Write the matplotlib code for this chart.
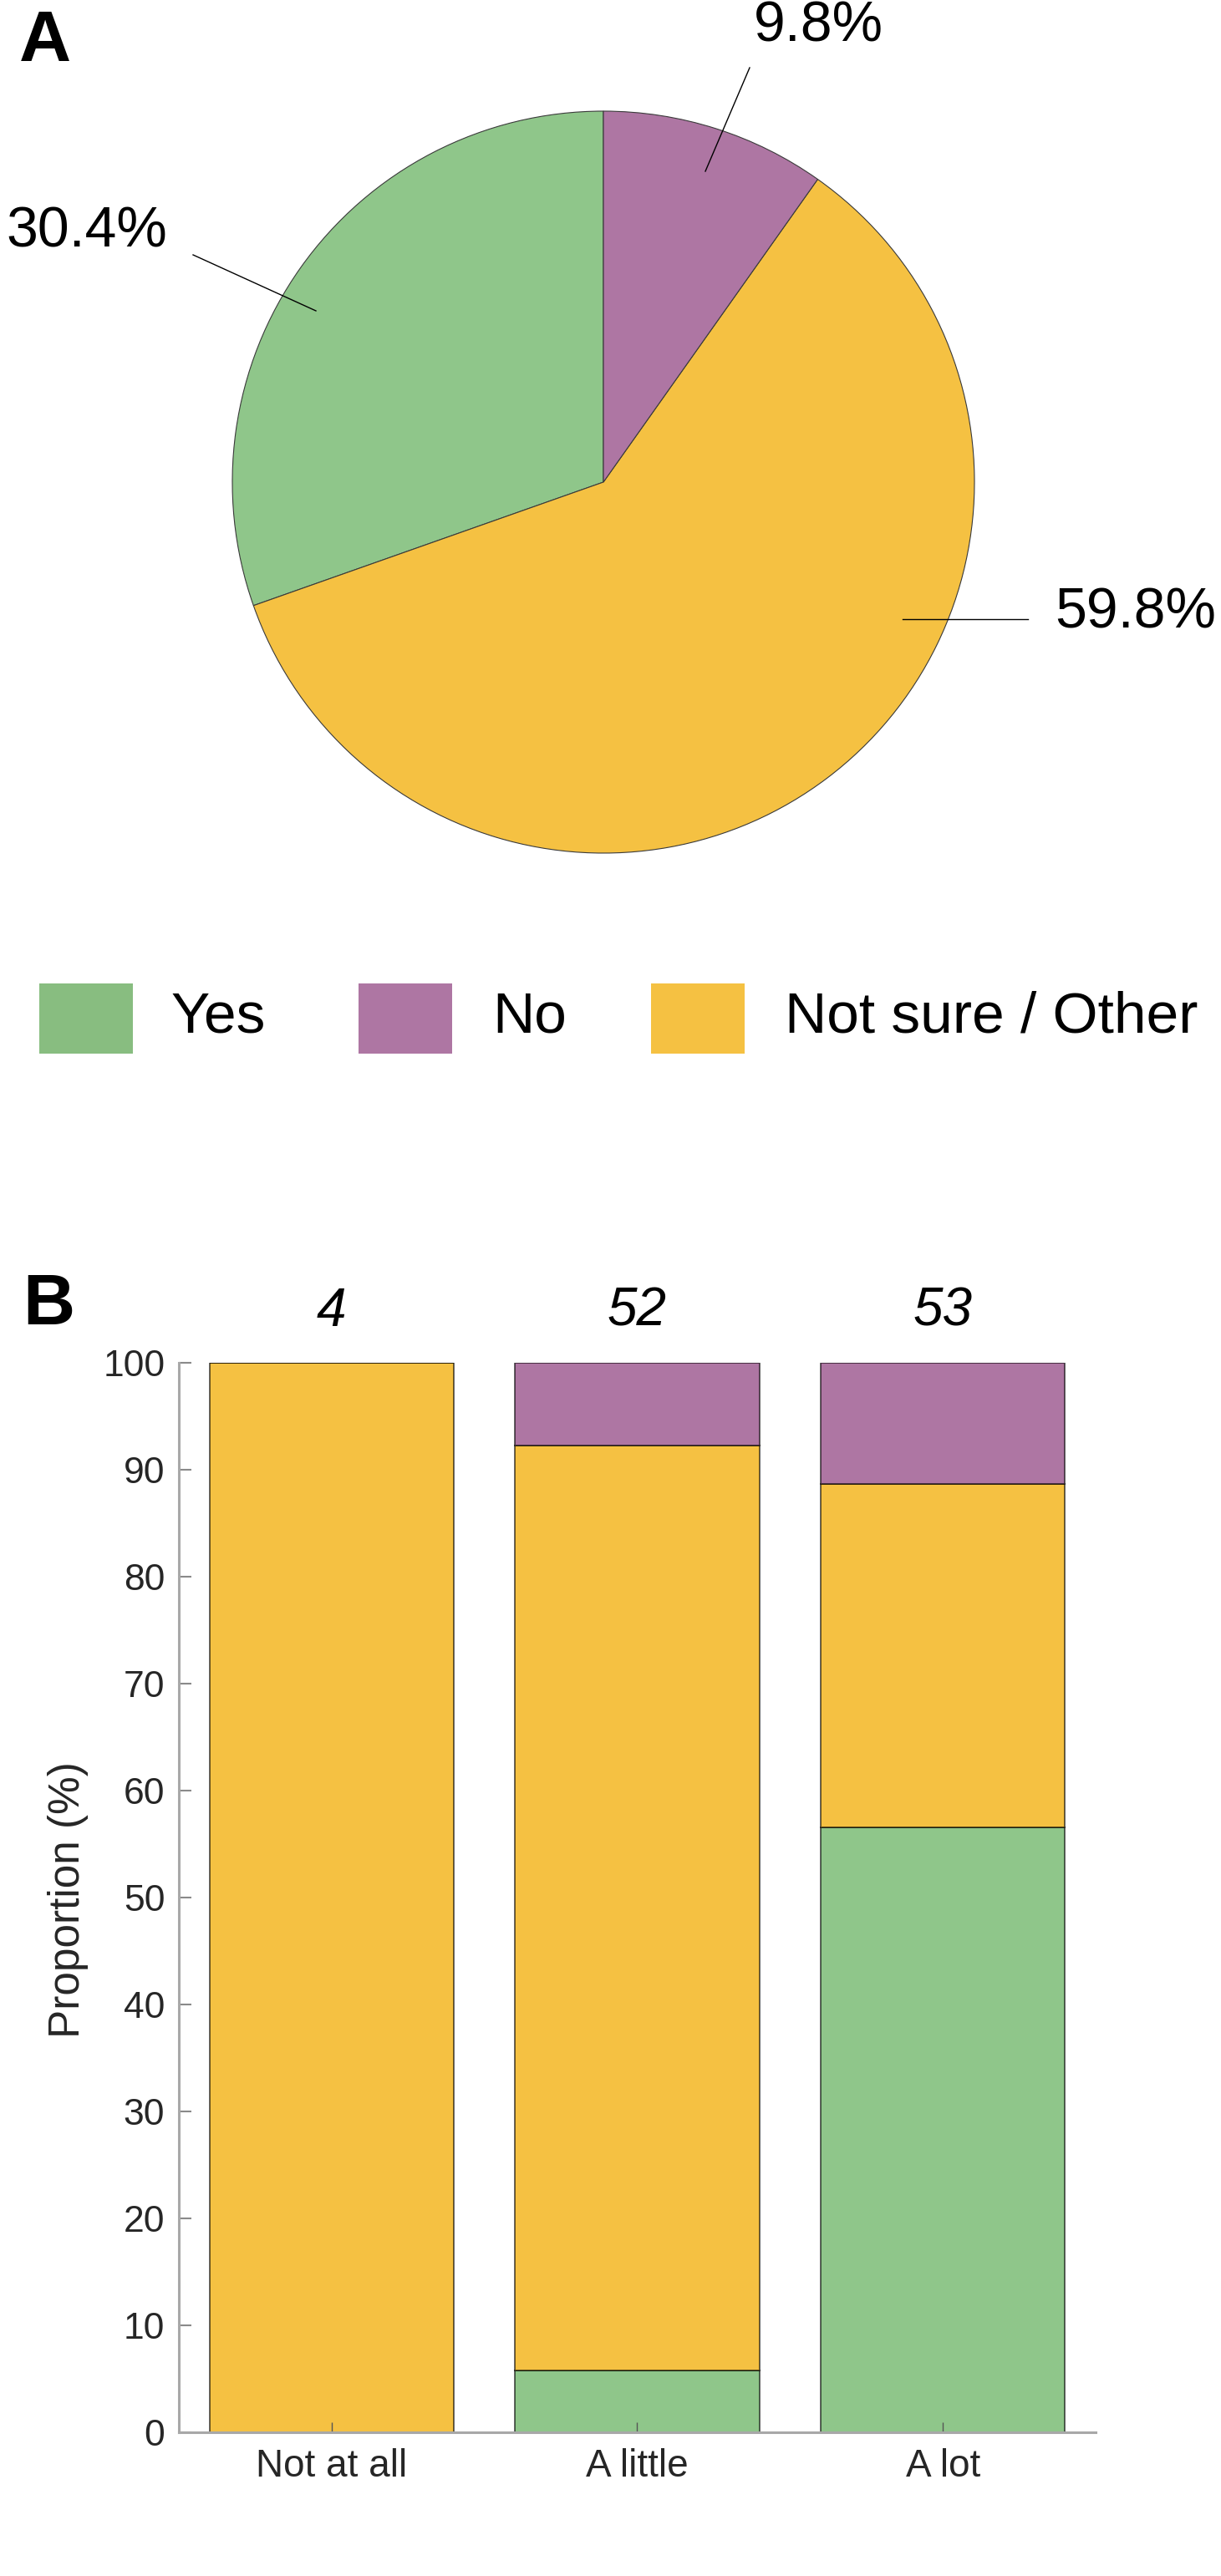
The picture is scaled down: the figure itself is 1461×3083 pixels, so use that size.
import matplotlib
matplotlib.use("Agg")
import matplotlib.pyplot as plt
from matplotlib.patches import Rectangle
import numpy as np

plt.rcParams['font.family'] = ['Liberation Sans', 'DejaVu Sans']

# ---------------- data ----------------
response_labels = ['Yes', 'No', 'Not sure / Other']
pie_values = [30.4, 9.8, 59.8]          # Yes, No, Not sure / Other (%)
pie_text = ['30.4%', '9.8%', '59.8%']

categories = ['Not at all', 'A little', 'A lot']
counts = [4, 52, 53]
yes_pct = [0.0, 5.8, 56.6]
notsure_pct = [100.0, 86.5, 32.1]
no_pct = [0.0, 7.7, 11.3]
yticks = [0, 10, 20, 30, 40, 50, 60, 70, 80, 90, 100]

# ---------------- style ----------------
C_YES = '#8FC68A'
C_NO = '#AE76A3'
C_NS = '#F5C142'
LEG_COLORS = ['#88BD80', '#AE76A3', '#F5C142']

W, H = 1461, 3083
fig = plt.figure(figsize=(W / 100, H / 100), dpi=100)

def fx(px):
    return px / W

def fy(py):
    return 1 - py / H

# ---------------- panel A : pie ----------------
cx, cy, R = 722, 577, 444
lim = 1.02
ax_pie = fig.add_axes([fx(cx - R * lim), fy(cy + R * lim), 2 * R * lim / W, 2 * R * lim / H])
order = [0, 2, 1]  # Yes, Not sure, No counter-clockwise from 12 o'clock
ax_pie.pie([pie_values[i] for i in order],
           colors=[[C_YES, C_NO, C_NS][i] for i in order],
           startangle=90, counterclock=True,
           wedgeprops=dict(edgecolor='#3a3a3a', linewidth=0.8))
ax_pie.set_xlim(-lim, lim)
ax_pie.set_ylim(-lim, lim)
ax_pie.set_aspect('equal')
ax_pie.axis('off')

def d(px, py):
    return ((px - cx) / R, (cy - py) / R)

# label text positions / leader lines (layout, in pixels of the figure)
label_pos = [(104, 277), (979, 32), (1359, 734)]
leader = [((231, 305), (378, 372)), ((897, 81), (844, 205)), ((1080, 741), (1230, 741))]
for txt, pos, (p0, p1) in zip(pie_text, label_pos, leader):
    x, y = d(*pos)
    ax_pie.text(x, y, txt, ha='center', va='center', fontsize=49, color='black', clip_on=False)
    (x0, y0), (x1, y1) = d(*p0), d(*p1)
    ax_pie.plot([x0, x1], [y0, y1], color='black', lw=1.0, clip_on=False)

fig.text(fx(23), fy(73), 'A', fontsize=62, fontweight='bold', ha='left', va='baseline')

# ---------------- legend ----------------
ax_leg = fig.add_axes([0, fy(1261), 1, 84 / H])
ax_leg.set_xlim(0, W)
ax_leg.set_ylim(0, 1)
ax_leg.axis('off')
patch_x = [47, 429, 779]
text_x = [205, 589, 939]
for lab, col, px, tx in zip(response_labels, LEG_COLORS, patch_x, text_x):
    ax_leg.add_patch(Rectangle((px, 0), 112, 1, facecolor=col, edgecolor='none'))
    ax_leg.text(tx, 0.52, lab, ha='left', va='center', fontsize=50, color='black')

# ---------------- panel B : stacked bars ----------------
ax = fig.add_axes([fx(214), fy(2911), (1311 - 214) / W, (2911 - 1631) / H])
x = np.arange(1, len(categories) + 1)
bw = 0.8
ek = dict(edgecolor=(0, 0, 0, 0.6), linewidth=1.4)
yes = np.array(yes_pct)
ns = np.array(notsure_pct)
no = np.array(no_pct)
ax.bar(x, yes, bw, color=C_YES, **ek)
ax.bar(x, ns, bw, bottom=yes, color=C_NS, **ek)
ax.bar(x, no, bw, bottom=yes + ns, color=C_NO, **ek)

ax.set_xlim(0.5, 3.5)
ax.set_ylim(0, 100)
ax.set_yticks(yticks)
ax.set_xticks(x)
ax.set_xticklabels(categories)
for s in ['top', 'right']:
    ax.spines[s].set_visible(False)
for s in ['left', 'bottom']:
    ax.spines[s].set_color('#a8a8a8')
    ax.spines[s].set_linewidth(2.2)
ax.tick_params(axis='y', direction='in', length=11, width=1.5, color='#8a8a8a',
               labelsize=32, labelcolor='#262626', pad=12)
ax.tick_params(axis='x', direction='in', length=9, width=1.0, color='#555555',
               labelsize=33, labelcolor='#262626', pad=14)

for xi, n in zip(x, counts):
    ax.text(xi, 104.8, str(n), ha='center', va='center', fontsize=46,
            fontstyle='italic', color='black', clip_on=False)

fig.text(fx(82), fy(2274), 'Proportion (%)', rotation=90, ha='center', va='center',
         fontsize=37, color='#262626')
fig.text(fx(27), fy(1585), 'B', fontsize=62, fontweight='bold', ha='left', va='baseline')

fig.savefig('out.png', dpi=100)
